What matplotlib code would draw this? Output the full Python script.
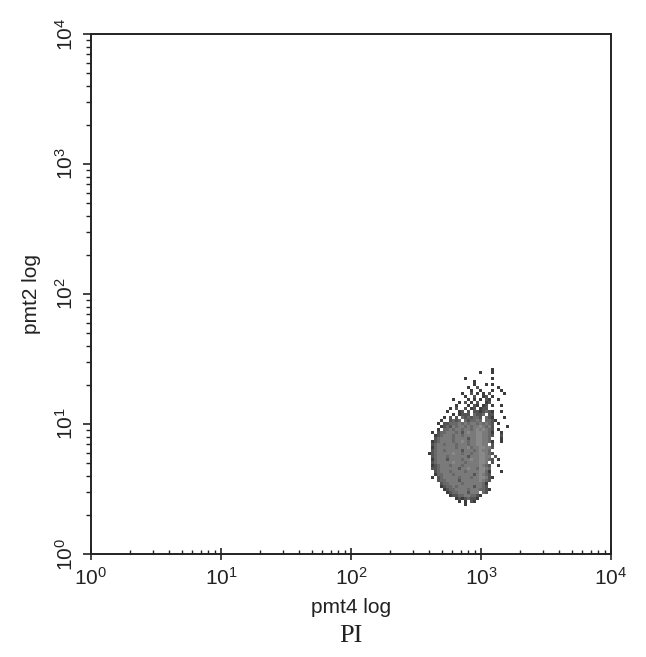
import numpy as np
import matplotlib
matplotlib.use("Agg")
import matplotlib.pyplot as plt
from matplotlib.colors import ListedColormap, BoundaryNorm
from matplotlib.ticker import LogLocator

plt.rcParams["font.family"] = ["Liberation Sans", "DejaVu Sans"]
plt.rcParams["mathtext.fontset"] = "custom"
plt.rcParams["mathtext.rm"] = "Liberation Sans"

# density grid: log10 bins, top row = highest pmt2
X_LOG_MIN = 2.57
Y_LOG_MAX = 1.45
BIN_WIDTH = 0.023
N_COLS = 32
DENSITY_ROWS = [
    "",
    "......................1",
    "..................1...1",
    "",
    ".............1........1",
    "................1",
    "................1...1.1",
    "..............1..2......1",
    "...............1..1...1..1",
    "............1..2.1.1.2....1",
    ".............1..2..12.1",
    ".........1....1.1.1.21..1",
    "...........1.2.1.2..12",
    "..........1...1.21.12.1..1",
    "........1.2..2.12.122",
    ".......1...12.2.2212321..1",
    ".........1.1222.3223.22",
    "......1.2.2.3232332.321...1",
    ".....1..2323.323343.3321",
    "....1.22333434344343432.1",
    ".....123243443434454342....1",
    "....1.33434434434545432.1",
    "..1.2334443424544554431..1",
    "...12344434434444554432..2",
    "...2344443444424455443...1",
    "..123444434454344554431..1",
    "..2344344434443445544.2",
    "..134444443444534455442",
    "..23443444442444345443",
    ".1234444454434434455432",
    "..23444344444424445544.2",
    "..134442444434454455432.1",
    "..2344444544434444554.2",
    "..12344434443444445432..1",
    "..22344444424454435543",
    "...2344434444344445531...1",
    "...1334443444444245432",
    "..1.2344444344434455421",
    "....233444424444445432",
    ".....2334444344444431",
    ".....1233434444424432",
    "......1233444434443321",
    ".......12334442444.32",
    "........12233443321",
    "..........12123221",
    "...........1.1.21",
    ".............1",
    "",
]
LEVEL_COLORS = ["#3c3c3c", "#535353", "#686868", "#7a7a7a", "#898989"]

X_LABEL = "pmt4 log"
Y_LABEL = "pmt2 log"
CAPTION = "PI"
AXIS_LIMITS = (1, 1e4)


def main():
    levels = np.array([[0 if ch == "." else int(ch) for ch in row.ljust(N_COLS, ".")]
                       for row in DENSITY_ROWS], dtype=float)
    levels = np.ma.masked_equal(levels, 0)
    x_edges = 10 ** (X_LOG_MIN + BIN_WIDTH * np.arange(levels.shape[1] + 1))
    y_edges = 10 ** (Y_LOG_MAX - BIN_WIDTH * np.arange(levels.shape[0] + 1))

    fig = plt.figure(figsize=(6.46, 6.57), dpi=100)
    ax = fig.add_axes([91 / 646, 103 / 657, 520 / 646, 520 / 657])

    cmap = ListedColormap(LEVEL_COLORS)
    norm = BoundaryNorm(np.arange(0.5, len(LEVEL_COLORS) + 1), cmap.N)
    ax.pcolormesh(x_edges, y_edges, levels, cmap=cmap, norm=norm)

    ax.set_xscale("log")
    ax.set_yscale("log")
    ax.set_xlim(*AXIS_LIMITS)
    ax.set_ylim(*AXIS_LIMITS)
    for a in (ax.xaxis, ax.yaxis):
        a.set_major_locator(LogLocator(base=10, numticks=10))
        a.set_minor_locator(LogLocator(base=10, subs=np.arange(2, 10), numticks=10))

    for s in ax.spines.values():
        s.set_linewidth(1.4)
        s.set_color("#222222")

    ax.tick_params(axis="x", which="major", direction="inout", length=8, width=1.2,
                   labelsize=15, pad=5, colors="#222222")
    ax.tick_params(axis="x", which="minor", direction="in", length=3, width=1.0,
                   colors="#222222")
    ax.tick_params(axis="y", which="major", direction="out", length=6, width=1.2,
                   labelsize=15, pad=4, colors="#222222")
    ax.tick_params(axis="y", which="minor", direction="out", length=3.5, width=1.0,
                   colors="#222222")
    for lab in ax.get_yticklabels():
        lab.set_rotation(90)
        lab.set_va("center")

    ax.set_xlabel(X_LABEL, fontsize=15, labelpad=7, color="#222222")
    ax.set_ylabel(Y_LABEL, fontsize=15, labelpad=10, color="#222222")
    fig.text(351 / 646, 1 - 636 / 657, CAPTION, ha="center", va="center",
             fontsize=19, family=["Liberation Serif", "DejaVu Serif"], color="#222222")

    fig.savefig("out.png", dpi=100, facecolor="white")
    plt.close(fig)


if __name__ == "__main__":
    main()
